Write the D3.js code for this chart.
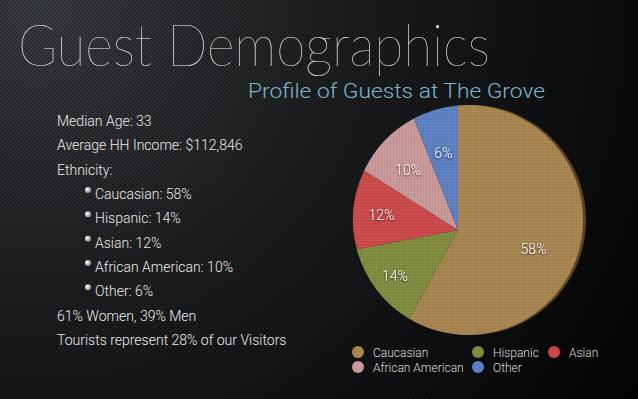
<!DOCTYPE html>
<html>
<head>
<meta charset="utf-8">
<script src="https://cdn.jsdelivr.net/npm/d3@7"></script>
<style>
  html, body { margin: 0; padding: 0; background: #000; }
  svg { display: block; }
  text { font-family: "Roboto", "Lato", "Open Sans", sans-serif; }
  .title { font-family: "Lato", "Roboto", sans-serif; }
</style>
</head>
<body>
<svg id="chart" width="638" height="399"></svg>
<script>
// ---- data ----
var categories = ['Caucasian', 'Hispanic', 'Asian', 'African American', 'Other'];
var shares = [58, 14, 12, 10, 6];
var sliceColors = ['#a8854f', '#7f8b3d', '#cc4848', '#c99898', '#5b7fc2'];

var titleText = 'Guest Demographics';
var subtitleText = 'Profile of Guests at The Grove';

var infoLines = ['Median Age: 33', 'Average HH Income: $112,846', 'Ethnicity:'];
var bulletLines = ['Caucasian: 58%', 'Hispanic: 14%', 'Asian: 12%', 'African American: 10%', 'Other: 6%'];
var footLines = ['61% Women, 39% Men', 'Tourists represent 28% of our Visitors'];

var W = 638, H = 399;
var svg = d3.select('#chart');
var defs = svg.append('defs');

// background: dark gradient, lighter at top-left
var bg = defs.append('radialGradient').attr('id', 'bg')
    .attr('gradientUnits', 'userSpaceOnUse')
    .attr('cx', 40).attr('cy', 0).attr('r', 720);
bg.append('stop').attr('offset', '0%').attr('stop-color', '#3b3e41');
bg.append('stop').attr('offset', '40%').attr('stop-color', '#1e2022');
bg.append('stop').attr('offset', '100%').attr('stop-color', '#030303');

var mesh = defs.append('pattern').attr('id', 'mesh')
    .attr('patternUnits', 'userSpaceOnUse').attr('width', 4).attr('height', 4);
mesh.append('circle').attr('cx', 1).attr('cy', 1).attr('r', 0.9).attr('fill', '#000').attr('opacity', 0.35);
mesh.append('circle').attr('cx', 3).attr('cy', 3).attr('r', 0.9).attr('fill', '#000').attr('opacity', 0.35);

var linen = defs.append('pattern').attr('id', 'linen')
    .attr('patternUnits', 'userSpaceOnUse').attr('width', 3).attr('height', 3);
linen.append('rect').attr('width', 3).attr('height', 1).attr('fill', '#fff').attr('opacity', 0.06);
linen.append('rect').attr('width', 1).attr('height', 3).attr('fill', '#000').attr('opacity', 0.06);

var shadow = defs.append('filter').attr('id', 'tshadow')
    .attr('x', '-20%').attr('y', '-20%').attr('width', '140%').attr('height', '140%');
shadow.append('feDropShadow').attr('dx', 0).attr('dy', 1).attr('stdDeviation', 1)
    .attr('flood-color', '#000').attr('flood-opacity', 0.8);

var bulletGrad = defs.append('radialGradient').attr('id', 'bullet')
    .attr('cx', '35%').attr('cy', '35%').attr('r', '70%');
bulletGrad.append('stop').attr('offset', '0%').attr('stop-color', '#ffffff');
bulletGrad.append('stop').attr('offset', '100%').attr('stop-color', '#8a8a8a');

svg.append('rect').attr('width', W).attr('height', H).attr('fill', 'url(#bg)');
svg.append('rect').attr('width', W).attr('height', H).attr('fill', 'url(#mesh)');

// ---- titles ----
svg.append('text')
    .attr('class', 'title')
    .attr('x', 18).attr('y', 66)
    .attr('textLength', 472).attr('lengthAdjust', 'spacingAndGlyphs')
    .style('font-size', '58px').style('font-weight', 100)
    .attr('fill', '#f4f4f4')
    .text(titleText);

svg.append('text')
    .attr('x', 248).attr('y', 98)
    .attr('textLength', 297).attr('lengthAdjust', 'spacingAndGlyphs')
    .style('font-size', '21px').style('font-weight', 300)
    .attr('fill', '#7db6cf')
    .text(subtitleText);

// ---- left text block ----
var lineY = d3.scaleLinear().domain([0, 9]).range([126, 345]);
var rows = [];
infoLines.forEach(function(t) { rows.push({ text: t, bullet: false }); });
bulletLines.forEach(function(t) { rows.push({ text: t, bullet: true }); });
footLines.forEach(function(t) { rows.push({ text: t, bullet: false }); });

var rowG = svg.append('g').selectAll('g').data(rows).enter().append('g')
    .attr('transform', function(d, i) { return 'translate(0,' + lineY(i) + ')'; });
rowG.append('text')
    .attr('x', function(d) { return d.bullet ? 95 : 57; })
    .attr('y', 0)
    .style('font-size', '14px').style('font-weight', 300)
    .attr('fill', '#ececec')
    .text(function(d) { return d.text; });
rowG.filter(function(d) { return d.bullet; }).append('circle')
    .attr('cx', 88).attr('cy', -9).attr('r', 3)
    .attr('fill', 'url(#bullet)');

// ---- pie ----
// slices meet at a vertex that sits off the centre of the outline (perspective tilt)
var vertex = [458, 230];
var rim = { cx: 468, cy: 220, r: 115 };

function edgePoint(a) {
    var dx = Math.sin(a), dy = -Math.cos(a);
    var wx = vertex[0] - rim.cx, wy = vertex[1] - rim.cy;
    var b = wx * dx + wy * dy;
    var c = wx * wx + wy * wy - rim.r * rim.r;
    var t = -b + Math.sqrt(b * b - c);
    return [vertex[0] + t * dx, vertex[1] + t * dy];
}

function slicePath(d) {
    var p0 = edgePoint(d.startAngle), p1 = edgePoint(d.endAngle);
    var phi0 = Math.atan2(p0[1] - rim.cy, p0[0] - rim.cx);
    var phi1 = Math.atan2(p1[1] - rim.cy, p1[0] - rim.cx);
    while (phi1 <= phi0) phi1 += 2 * Math.PI;
    var p = d3.path();
    p.moveTo(vertex[0], vertex[1]);
    p.lineTo(p0[0], p0[1]);
    p.arc(rim.cx, rim.cy, rim.r, phi0, phi1, false);
    p.closePath();
    return p.toString();
}

var pie = d3.pie().sort(null).value(function(d) { return d; });
var arcs = pie(shares);
var color = d3.scaleOrdinal().domain(categories).range(sliceColors);

var pieG = svg.append('g');
// side of the tilted disc, visible on the right of the big slice
pieG.append('path')
    .attr('d', slicePath(arcs[0]))
    .attr('transform', 'translate(3,0)')
    .attr('fill', '#5c4424');

pieG.selectAll('path.slice').data(arcs).enter().append('path')
    .attr('class', 'slice')
    .attr('d', slicePath)
    .attr('fill', function(d, i) { return color(categories[i]); });
pieG.selectAll('path.tex').data(arcs).enter().append('path')
    .attr('class', 'tex')
    .attr('d', slicePath)
    .attr('fill', 'url(#linen)');

pieG.selectAll('text').data(arcs).enter().append('text')
    .attr('x', function(d) { return vertex[0] + 78 * Math.sin((d.startAngle + d.endAngle) / 2); })
    .attr('y', function(d) { return vertex[1] - 78 * Math.cos((d.startAngle + d.endAngle) / 2) + 5; })
    .attr('text-anchor', 'middle')
    .style('font-size', '14px').style('font-weight', 300)
    .attr('fill', '#f2f2f2')
    .attr('filter', 'url(#tshadow)')
    .text(function(d) { return d.data + '%'; });

// ---- legend ----
var legX = [358, 478, 554];
var legY = [352, 367];
var legend = svg.append('g').selectAll('g').data(categories).enter().append('g')
    .attr('transform', function(d, i) { return 'translate(' + legX[i % 3] + ',' + legY[Math.floor(i / 3)] + ')'; });
legend.append('circle').attr('r', 6).attr('fill', function(d) { return color(d); });
legend.append('text')
    .attr('x', 15).attr('y', 4.5)
    .style('font-size', '12px').style('font-weight', 300)
    .attr('fill', '#dcdcdc')
    .text(function(d) { return d; });
</script>
</body>
</html>
